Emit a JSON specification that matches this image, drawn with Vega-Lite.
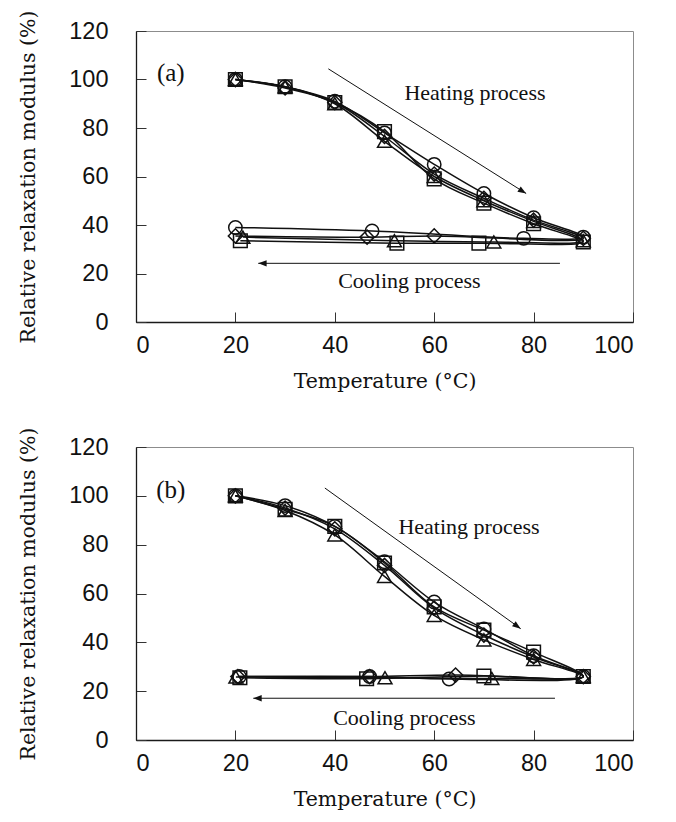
{
  "$schema": "https://vega.github.io/schema/vega-lite/v6.json",
  "padding": {"left": 18, "top": 9, "right": 10, "bottom": 5},
  "background": "white",
  "spacing": 33,
  "config": {
    "view": {"stroke": "#8c8c8c", "strokeWidth": 1},
    "axis": {
      "grid": false,
      "domainColor": "#1a1a1a",
      "domainWidth": 1.3,
      "tickColor": "#333333",
      "tickWidth": 1,
      "tickSize": -10,
      "labelFont": "Liberation Sans",
      "labelFontSize": 23.5,
      "labelColor": "#111111",
      "titleFont": "'DejaVu Serif', serif",
      "titleFontSize": 20.5,
      "titleFontWeight": "normal",
      "titleColor": "#111111"
    },
    "axisX": {"labelPadding": 21, "titlePadding": 15},
    "axisY": {"labelPadding": 38, "titlePadding": 30}
  },
  "datasets": {
    "curves": [
      {"panel": "a", "sample": "circle", "seq": 1, "t": 20, "r": 100},
      {"panel": "a", "sample": "circle", "seq": 2, "t": 30, "r": 97},
      {"panel": "a", "sample": "circle", "seq": 3, "t": 40, "r": 91},
      {"panel": "a", "sample": "circle", "seq": 4, "t": 50, "r": 78},
      {"panel": "a", "sample": "circle", "seq": 5, "t": 60, "r": 65},
      {"panel": "a", "sample": "circle", "seq": 6, "t": 70, "r": 53},
      {"panel": "a", "sample": "circle", "seq": 7, "t": 80, "r": 43},
      {"panel": "a", "sample": "circle", "seq": 8, "t": 90, "r": 35},
      {"panel": "a", "sample": "circle", "seq": 9, "t": 78, "r": 34.5},
      {"panel": "a", "sample": "circle", "seq": 10, "t": 47.5, "r": 37.5},
      {"panel": "a", "sample": "circle", "seq": 11, "t": 20, "r": 39},

      {"panel": "a", "sample": "square", "seq": 1, "t": 20, "r": 100},
      {"panel": "a", "sample": "square", "seq": 2, "t": 30, "r": 97},
      {"panel": "a", "sample": "square", "seq": 3, "t": 40, "r": 90.5},
      {"panel": "a", "sample": "square", "seq": 4, "t": 50, "r": 78.5},
      {"panel": "a", "sample": "square", "seq": 5, "t": 60, "r": 59},
      {"panel": "a", "sample": "square", "seq": 6, "t": 70, "r": 49},
      {"panel": "a", "sample": "square", "seq": 7, "t": 80, "r": 40.5},
      {"panel": "a", "sample": "square", "seq": 8, "t": 90, "r": 33},
      {"panel": "a", "sample": "square", "seq": 9, "t": 69, "r": 32.5},
      {"panel": "a", "sample": "square", "seq": 10, "t": 52.5, "r": 32.5},
      {"panel": "a", "sample": "square", "seq": 11, "t": 21, "r": 33.5},

      {"panel": "a", "sample": "triangle", "seq": 1, "t": 20, "r": 100},
      {"panel": "a", "sample": "triangle", "seq": 2, "t": 30, "r": 97},
      {"panel": "a", "sample": "triangle", "seq": 3, "t": 40, "r": 90},
      {"panel": "a", "sample": "triangle", "seq": 4, "t": 50, "r": 74.5},
      {"panel": "a", "sample": "triangle", "seq": 5, "t": 60, "r": 60},
      {"panel": "a", "sample": "triangle", "seq": 6, "t": 70, "r": 50},
      {"panel": "a", "sample": "triangle", "seq": 7, "t": 80, "r": 41.5},
      {"panel": "a", "sample": "triangle", "seq": 8, "t": 90, "r": 33.5},
      {"panel": "a", "sample": "triangle", "seq": 9, "t": 72, "r": 33},
      {"panel": "a", "sample": "triangle", "seq": 10, "t": 52, "r": 33.5},
      {"panel": "a", "sample": "triangle", "seq": 11, "t": 21.5, "r": 35},

      {"panel": "a", "sample": "diamond", "seq": 1, "t": 20, "r": 100},
      {"panel": "a", "sample": "diamond", "seq": 2, "t": 30, "r": 96.5},
      {"panel": "a", "sample": "diamond", "seq": 3, "t": 40, "r": 90.5},
      {"panel": "a", "sample": "diamond", "seq": 4, "t": 50, "r": 76.5},
      {"panel": "a", "sample": "diamond", "seq": 5, "t": 60, "r": 61},
      {"panel": "a", "sample": "diamond", "seq": 6, "t": 70, "r": 51},
      {"panel": "a", "sample": "diamond", "seq": 7, "t": 80, "r": 42},
      {"panel": "a", "sample": "diamond", "seq": 8, "t": 90, "r": 34.5},
      {"panel": "a", "sample": "diamond", "seq": 9, "t": 60, "r": 35.5},
      {"panel": "a", "sample": "diamond", "seq": 10, "t": 46.5, "r": 35},
      {"panel": "a", "sample": "diamond", "seq": 11, "t": 20, "r": 35.5},

      {"panel": "b", "sample": "circle", "seq": 1, "t": 20, "r": 100},
      {"panel": "b", "sample": "circle", "seq": 2, "t": 30, "r": 96},
      {"panel": "b", "sample": "circle", "seq": 3, "t": 40, "r": 87.5},
      {"panel": "b", "sample": "circle", "seq": 4, "t": 50, "r": 73},
      {"panel": "b", "sample": "circle", "seq": 5, "t": 60, "r": 56.5},
      {"panel": "b", "sample": "circle", "seq": 6, "t": 70, "r": 45.5},
      {"panel": "b", "sample": "circle", "seq": 7, "t": 80, "r": 34.5},
      {"panel": "b", "sample": "circle", "seq": 8, "t": 90, "r": 26},
      {"panel": "b", "sample": "circle", "seq": 9, "t": 63, "r": 25},
      {"panel": "b", "sample": "circle", "seq": 10, "t": 47, "r": 26},
      {"panel": "b", "sample": "circle", "seq": 11, "t": 20.8, "r": 26},

      {"panel": "b", "sample": "square", "seq": 1, "t": 20, "r": 100},
      {"panel": "b", "sample": "square", "seq": 2, "t": 30, "r": 94.5},
      {"panel": "b", "sample": "square", "seq": 3, "t": 40, "r": 87.5},
      {"panel": "b", "sample": "square", "seq": 4, "t": 50, "r": 72.5},
      {"panel": "b", "sample": "square", "seq": 5, "t": 60, "r": 54.5},
      {"panel": "b", "sample": "square", "seq": 6, "t": 70, "r": 45},
      {"panel": "b", "sample": "square", "seq": 7, "t": 80, "r": 36},
      {"panel": "b", "sample": "square", "seq": 8, "t": 90, "r": 26},
      {"panel": "b", "sample": "square", "seq": 9, "t": 70, "r": 26.2},
      {"panel": "b", "sample": "square", "seq": 10, "t": 46.4, "r": 25.1},
      {"panel": "b", "sample": "square", "seq": 11, "t": 20.9, "r": 25.5},

      {"panel": "b", "sample": "triangle", "seq": 1, "t": 20, "r": 100},
      {"panel": "b", "sample": "triangle", "seq": 2, "t": 30, "r": 94},
      {"panel": "b", "sample": "triangle", "seq": 3, "t": 40, "r": 84},
      {"panel": "b", "sample": "triangle", "seq": 4, "t": 50, "r": 67},
      {"panel": "b", "sample": "triangle", "seq": 5, "t": 60, "r": 51},
      {"panel": "b", "sample": "triangle", "seq": 6, "t": 70, "r": 41},
      {"panel": "b", "sample": "triangle", "seq": 7, "t": 80, "r": 33},
      {"panel": "b", "sample": "triangle", "seq": 8, "t": 90, "r": 26},
      {"panel": "b", "sample": "triangle", "seq": 9, "t": 71.6, "r": 25.2},
      {"panel": "b", "sample": "triangle", "seq": 10, "t": 50.1, "r": 25.5},
      {"panel": "b", "sample": "triangle", "seq": 11, "t": 20.1, "r": 25.8},

      {"panel": "b", "sample": "diamond", "seq": 1, "t": 20, "r": 100},
      {"panel": "b", "sample": "diamond", "seq": 2, "t": 30, "r": 95},
      {"panel": "b", "sample": "diamond", "seq": 3, "t": 40, "r": 86.5},
      {"panel": "b", "sample": "diamond", "seq": 4, "t": 50, "r": 71.5},
      {"panel": "b", "sample": "diamond", "seq": 5, "t": 60, "r": 54},
      {"panel": "b", "sample": "diamond", "seq": 6, "t": 70, "r": 43},
      {"panel": "b", "sample": "diamond", "seq": 7, "t": 80, "r": 34},
      {"panel": "b", "sample": "diamond", "seq": 8, "t": 90, "r": 26},
      {"panel": "b", "sample": "diamond", "seq": 9, "t": 64.3, "r": 26.6},
      {"panel": "b", "sample": "diamond", "seq": 10, "t": 47, "r": 26},
      {"panel": "b", "sample": "diamond", "seq": 11, "t": 20.5, "r": 26}
    ],
    "arrows": [
      {"panel": "a", "kind": "heating", "t": 38.7, "r": 104.4, "t2": 78.5, "r2": 53},
      {"panel": "a", "kind": "cooling", "t": 85.3, "r": 24.2, "t2": 24.6, "r2": 24.2},
      {"panel": "b", "kind": "heating", "t": 38.0, "r": 103.2, "t2": 77.4, "r2": 45.6},
      {"panel": "b", "kind": "cooling", "t": 84.3, "r": 17.1, "t2": 23.6, "r2": 17.1}
    ],
    "notes": [
      {"panel": "a", "kind": "process", "text": "Heating process", "t": 68.2, "r": 94.6},
      {"panel": "a", "kind": "process", "text": "Cooling process", "t": 55, "r": 16.9},
      {"panel": "a", "kind": "tag", "text": "(a)", "t": 7, "r": 102.5},
      {"panel": "b", "kind": "process", "text": "Heating process", "t": 67, "r": 87.1},
      {"panel": "b", "kind": "process", "text": "Cooling process", "t": 54, "r": 9.0},
      {"panel": "b", "kind": "tag", "text": "(b)", "t": 7, "r": 102.5}
    ]
  },
  "vconcat": [
    {
      "width": 497,
      "height": 291,
      "layer": [
        {
          "data": {"name": "curves"},
          "transform": [{"filter": "datum.panel === 'a'"}],
          "mark": {"type": "line", "interpolate": "catmull-rom", "color": "#111111", "strokeWidth": 1.5},
          "encoding": {
            "x": {"field": "t", "type": "quantitative", "scale": {"domain": [0, 100], "nice": false}, "axis": {"values": [0, 20, 40, 60, 80, 100], "title": "Temperature (°C)"}},
            "y": {"field": "r", "type": "quantitative", "scale": {"domain": [0, 120], "nice": false}, "axis": {"values": [0, 20, 40, 60, 80, 100, 120], "title": "Relative relaxation modulus (%)"}},
            "detail": {"field": "sample"},
            "order": {"field": "seq"}
          }
        },
        {
          "data": {"name": "curves"},
          "transform": [{"filter": "datum.panel === 'a'"}],
          "mark": {"type": "point", "filled": false, "stroke": "#111111", "strokeWidth": 1.5, "opacity": 1},
          "encoding": {
            "x": {"field": "t", "type": "quantitative"},
            "y": {"field": "r", "type": "quantitative"},
            "shape": {"field": "sample", "type": "nominal", "scale": {"domain": ["circle", "square", "triangle", "diamond"], "range": ["circle", "square", "triangle-up", "diamond"]}, "legend": null},
            "size": {"field": "sample", "type": "nominal", "scale": {"domain": ["circle", "square", "triangle", "diamond"], "range": [180, 200, 320, 100]}, "legend": null}
          }
        },
        {
          "data": {"name": "arrows"},
          "transform": [{"filter": "datum.panel === 'a'"}],
          "mark": {"type": "rule", "color": "#111111", "strokeWidth": 1},
          "encoding": {
            "x": {"field": "t", "type": "quantitative"},
            "y": {"field": "r", "type": "quantitative"},
            "x2": {"field": "t2"},
            "y2": {"field": "r2"}
          }
        },
        {
          "data": {"name": "arrows"},
          "transform": [{"filter": "datum.panel === 'a' && datum.kind === 'heating'"}],
          "mark": {"type": "point", "shape": "M0,0L-2,-0.75L-2,0.75Z", "filled": true, "color": "#111111", "opacity": 1, "size": 70, "angle": 32},
          "encoding": {
            "x": {"field": "t2", "type": "quantitative"},
            "y": {"field": "r2", "type": "quantitative"}
          }
        },
        {
          "data": {"name": "arrows"},
          "transform": [{"filter": "datum.panel === 'a' && datum.kind === 'cooling'"}],
          "mark": {"type": "point", "shape": "M0,0L-2,-0.75L-2,0.75Z", "filled": true, "color": "#111111", "opacity": 1, "size": 70, "angle": 180},
          "encoding": {
            "x": {"field": "t2", "type": "quantitative"},
            "y": {"field": "r2", "type": "quantitative"}
          }
        },
        {
          "data": {"name": "notes"},
          "transform": [{"filter": "datum.panel === 'a' && datum.kind === 'process'"}],
          "mark": {"type": "text", "font": "Liberation Serif", "fontSize": 22, "color": "#111111", "align": "center", "baseline": "middle"},
          "encoding": {
            "x": {"field": "t", "type": "quantitative"},
            "y": {"field": "r", "type": "quantitative"},
            "text": {"field": "text"}
          }
        },
        {
          "data": {"name": "notes"},
          "transform": [{"filter": "datum.panel === 'a' && datum.kind === 'tag'"}],
          "mark": {"type": "text", "font": "Liberation Serif", "fontSize": 25, "color": "#111111", "align": "center", "baseline": "middle"},
          "encoding": {
            "x": {"field": "t", "type": "quantitative"},
            "y": {"field": "r", "type": "quantitative"},
            "text": {"field": "text"}
          }
        }
      ]
    },
    {
      "width": 497,
      "height": 293,
      "layer": [
        {
          "data": {"name": "curves"},
          "transform": [{"filter": "datum.panel === 'b'"}],
          "mark": {"type": "line", "interpolate": "catmull-rom", "color": "#111111", "strokeWidth": 1.5},
          "encoding": {
            "x": {"field": "t", "type": "quantitative", "scale": {"domain": [0, 100], "nice": false}, "axis": {"values": [0, 20, 40, 60, 80, 100], "title": "Temperature (°C)"}},
            "y": {"field": "r", "type": "quantitative", "scale": {"domain": [0, 120], "nice": false}, "axis": {"values": [0, 20, 40, 60, 80, 100, 120], "title": "Relative relaxation modulus (%)"}},
            "detail": {"field": "sample"},
            "order": {"field": "seq"}
          }
        },
        {
          "data": {"name": "curves"},
          "transform": [{"filter": "datum.panel === 'b'"}],
          "mark": {"type": "point", "filled": false, "stroke": "#111111", "strokeWidth": 1.5, "opacity": 1},
          "encoding": {
            "x": {"field": "t", "type": "quantitative"},
            "y": {"field": "r", "type": "quantitative"},
            "shape": {"field": "sample", "type": "nominal", "scale": {"domain": ["circle", "square", "triangle", "diamond"], "range": ["circle", "square", "triangle-up", "diamond"]}, "legend": null},
            "size": {"field": "sample", "type": "nominal", "scale": {"domain": ["circle", "square", "triangle", "diamond"], "range": [180, 200, 320, 100]}, "legend": null}
          }
        },
        {
          "data": {"name": "arrows"},
          "transform": [{"filter": "datum.panel === 'b'"}],
          "mark": {"type": "rule", "color": "#111111", "strokeWidth": 1},
          "encoding": {
            "x": {"field": "t", "type": "quantitative"},
            "y": {"field": "r", "type": "quantitative"},
            "x2": {"field": "t2"},
            "y2": {"field": "r2"}
          }
        },
        {
          "data": {"name": "arrows"},
          "transform": [{"filter": "datum.panel === 'b' && datum.kind === 'heating'"}],
          "mark": {"type": "point", "shape": "M0,0L-2,-0.75L-2,0.75Z", "filled": true, "color": "#111111", "opacity": 1, "size": 70, "angle": 35.6},
          "encoding": {
            "x": {"field": "t2", "type": "quantitative"},
            "y": {"field": "r2", "type": "quantitative"}
          }
        },
        {
          "data": {"name": "arrows"},
          "transform": [{"filter": "datum.panel === 'b' && datum.kind === 'cooling'"}],
          "mark": {"type": "point", "shape": "M0,0L-2,-0.75L-2,0.75Z", "filled": true, "color": "#111111", "opacity": 1, "size": 70, "angle": 180},
          "encoding": {
            "x": {"field": "t2", "type": "quantitative"},
            "y": {"field": "r2", "type": "quantitative"}
          }
        },
        {
          "data": {"name": "notes"},
          "transform": [{"filter": "datum.panel === 'b' && datum.kind === 'process'"}],
          "mark": {"type": "text", "font": "Liberation Serif", "fontSize": 22, "color": "#111111", "align": "center", "baseline": "middle"},
          "encoding": {
            "x": {"field": "t", "type": "quantitative"},
            "y": {"field": "r", "type": "quantitative"},
            "text": {"field": "text"}
          }
        },
        {
          "data": {"name": "notes"},
          "transform": [{"filter": "datum.panel === 'b' && datum.kind === 'tag'"}],
          "mark": {"type": "text", "font": "Liberation Serif", "fontSize": 25, "color": "#111111", "align": "center", "baseline": "middle"},
          "encoding": {
            "x": {"field": "t", "type": "quantitative"},
            "y": {"field": "r", "type": "quantitative"},
            "text": {"field": "text"}
          }
        }
      ]
    }
  ]
}
